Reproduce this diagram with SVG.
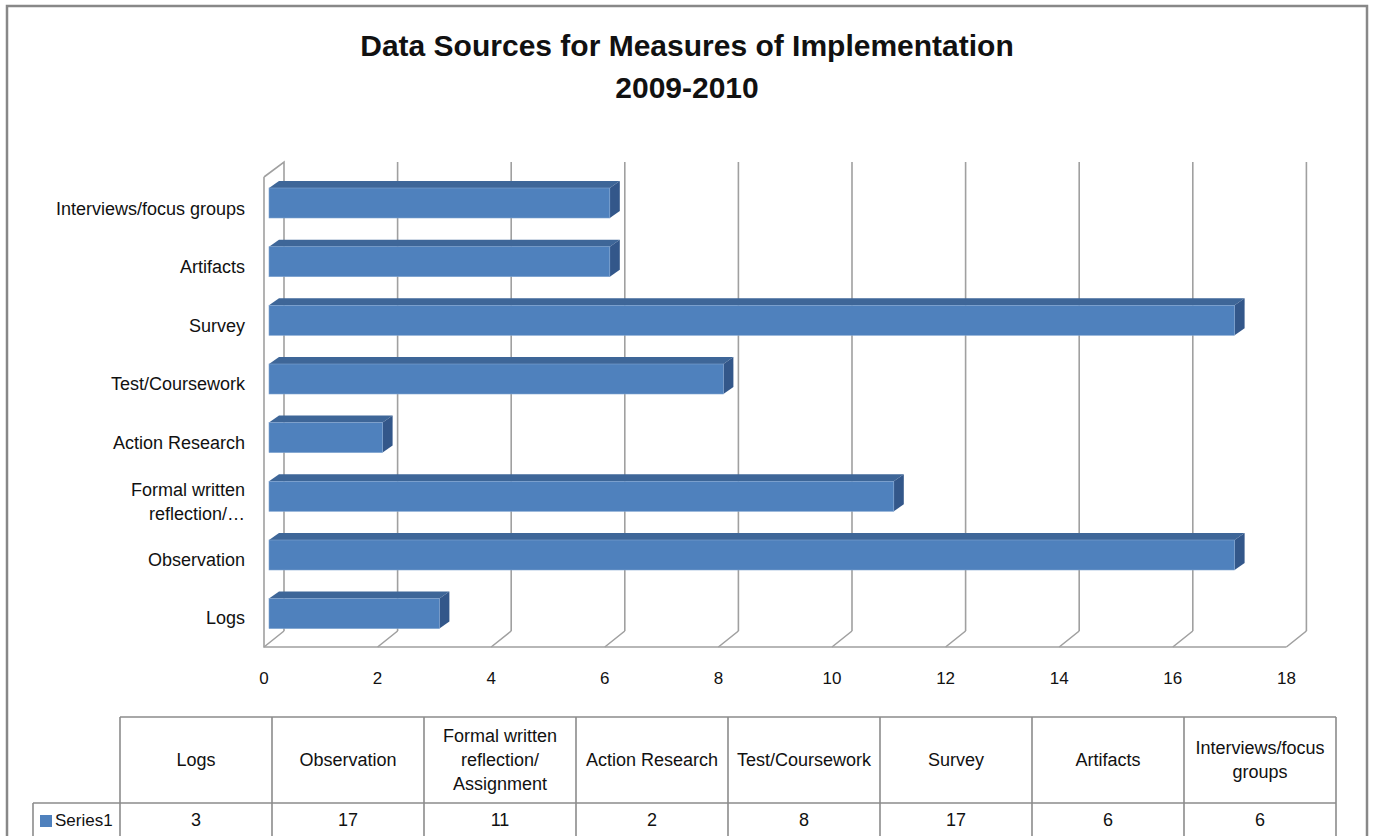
<svg xmlns="http://www.w3.org/2000/svg" width="1374" height="836" viewBox="0 0 1374 836">
<style>
.t{font-family:"Liberation Sans",Arial,sans-serif;fill:#111}
.title{font-size:30px;font-weight:bold;text-anchor:middle}
.cat{font-size:18px;text-anchor:end}
.ax{font-size:17px;text-anchor:middle}
.tb{font-size:18px;text-anchor:middle}
.g{stroke:#a0a0a0;stroke-width:1.6;fill:none}
.tl{stroke:#8c8c8c;stroke-width:1.6;fill:none}
.front{fill:#4f81bd;stroke:#7fa3d0;stroke-width:0.6}
.top{fill:#3e6698}
.side{fill:#33578a}
</style>
<rect x="0" y="0" width="1374" height="836" fill="#fff"/>
<rect x="7" y="6" width="1360" height="845" fill="none" stroke="#888" stroke-width="2.5"/>
<g id="title">
<text class="t title" x="687" y="56">Data Sources for Measures of Implementation</text>
<text class="t title" x="687" y="98">2009-2010</text>
</g>
<g id="grid">
<path class="g" d="M264,177 L284,162 L284,631 M264,177 L264,647 L1286.4,647"/>
<path class="g" d="M397.6,162V631 M511.2,162V631 M624.8,162V631 M738.4,162V631 M852,162V631 M965.6,162V631 M1079.2,162V631 M1192.8,162V631 M1306.4,162V631"/>
<path class="g" d="M284,631L264,647 M397.6,631L377.6,647 M511.2,631L491.2,647 M624.8,631L604.8,647 M738.4,631L718.4,647 M852,631L832,647 M965.6,631L945.6,647 M1079.2,631L1059.2,647 M1192.8,631L1172.8,647 M1306.4,631L1286.4,647"/>
</g>
<g id="axis-labels">
<text class="t ax" x="264" y="684">0</text>
<text class="t ax" x="377.6" y="684">2</text>
<text class="t ax" x="491.2" y="684">4</text>
<text class="t ax" x="604.8" y="684">6</text>
<text class="t ax" x="718.4" y="684">8</text>
<text class="t ax" x="832" y="684">10</text>
<text class="t ax" x="945.6" y="684">12</text>
<text class="t ax" x="1059.2" y="684">14</text>
<text class="t ax" x="1172.8" y="684">16</text>
<text class="t ax" x="1286.4" y="684">18</text>
</g>
<g id="bar-interviews">
<polygon class="top" points="269,188 279,181 619.8,181 609.8,188"/>
<polygon class="side" points="609.8,188 619.8,181 619.8,211 609.8,218"/>
<rect class="front" x="269" y="188" width="340.8" height="30"/>
<text class="t cat" x="245" y="215">Interviews/focus groups</text>
</g>
<g id="bar-artifacts">
<polygon class="top" points="269,246.7 279,239.7 619.8,239.7 609.8,246.7"/>
<polygon class="side" points="609.8,246.7 619.8,239.7 619.8,269.7 609.8,276.7"/>
<rect class="front" x="269" y="246.7" width="340.8" height="30"/>
<text class="t cat" x="245" y="273">Artifacts</text>
</g>
<g id="bar-survey">
<polygon class="top" points="269,305.3 279,298.3 1244.6,298.3 1234.6,305.3"/>
<polygon class="side" points="1234.6,305.3 1244.6,298.3 1244.6,328.3 1234.6,335.3"/>
<rect class="front" x="269" y="305.3" width="965.6" height="30"/>
<text class="t cat" x="245" y="332">Survey</text>
</g>
<g id="bar-test">
<polygon class="top" points="269,364 279,357 733.4,357 723.4,364"/>
<polygon class="side" points="723.4,364 733.4,357 733.4,387 723.4,394"/>
<rect class="front" x="269" y="364" width="454.4" height="30"/>
<text class="t cat" x="245" y="390">Test/Coursework</text>
</g>
<g id="bar-action">
<polygon class="top" points="269,422.6 279,415.6 392.6,415.6 382.6,422.6"/>
<polygon class="side" points="382.6,422.6 392.6,415.6 392.6,445.6 382.6,452.6"/>
<rect class="front" x="269" y="422.6" width="113.6" height="30"/>
<text class="t cat" x="245" y="449">Action Research</text>
</g>
<g id="bar-formal">
<polygon class="top" points="269,481.3 279,474.3 903.8,474.3 893.8,481.3"/>
<polygon class="side" points="893.8,481.3 903.8,474.3 903.8,504.3 893.8,511.3"/>
<rect class="front" x="269" y="481.3" width="624.8" height="30"/>
<text class="t cat" x="245" y="496">Formal written</text>
<text class="t cat" x="245" y="520">reflection/…</text>
</g>
<g id="bar-observation">
<polygon class="top" points="269,540 279,533 1244.6,533 1234.6,540"/>
<polygon class="side" points="1234.6,540 1244.6,533 1244.6,563 1234.6,570"/>
<rect class="front" x="269" y="540" width="965.6" height="30"/>
<text class="t cat" x="245" y="566">Observation</text>
</g>
<g id="bar-logs">
<polygon class="top" points="269,598.6 279,591.6 449.4,591.6 439.4,598.6"/>
<polygon class="side" points="439.4,598.6 449.4,591.6 449.4,621.6 439.4,628.6"/>
<rect class="front" x="269" y="598.6" width="170.4" height="30"/>
<text class="t cat" x="245" y="624">Logs</text>
</g>
<g id="data-table">
<path class="tl" d="M120,717H1336 M33,803H1336 M120,717V840 M272,717V840 M424,717V840 M576,717V840 M728,717V840 M880,717V840 M1032,717V840 M1184,717V840 M1336,717V840 M33,803V840"/>
<text class="t tb" x="196" y="766">Logs</text>
<text class="t tb" x="348" y="766">Observation</text>
<text class="t tb" x="500" y="742">Formal written</text>
<text class="t tb" x="500" y="766">reflection/</text>
<text class="t tb" x="500" y="790">Assignment</text>
<text class="t tb" x="652" y="766">Action Research</text>
<text class="t tb" x="804" y="766">Test/Coursework</text>
<text class="t tb" x="956" y="766">Survey</text>
<text class="t tb" x="1108" y="766">Artifacts</text>
<text class="t tb" x="1260" y="754">Interviews/focus</text>
<text class="t tb" x="1260" y="778">groups</text>
<rect x="40" y="815" width="12" height="12" fill="#4f81bd"/>
<text class="t" x="55" y="826" style="font-size:17px">Series1</text>
<text class="t tb" x="196" y="826">3</text>
<text class="t tb" x="348" y="826">17</text>
<text class="t tb" x="500" y="826">11</text>
<text class="t tb" x="652" y="826">2</text>
<text class="t tb" x="804" y="826">8</text>
<text class="t tb" x="956" y="826">17</text>
<text class="t tb" x="1108" y="826">6</text>
<text class="t tb" x="1260" y="826">6</text>
</g>
</svg>
